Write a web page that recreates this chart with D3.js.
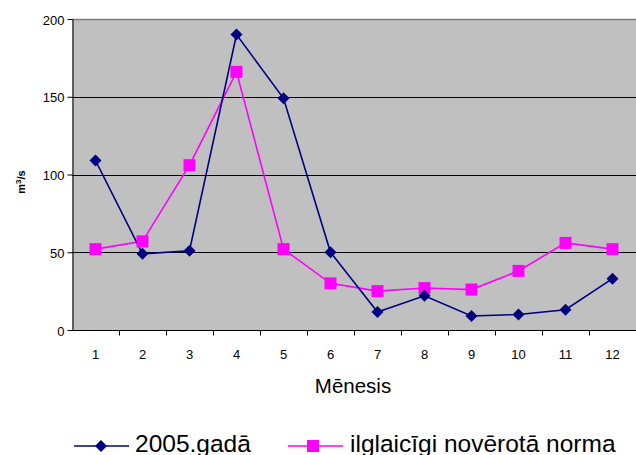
<!DOCTYPE html>
<html>
<head>
<meta charset="utf-8">
<script src="https://cdn.jsdelivr.net/npm/d3@7"></script>
<style>
  body { margin: 0; background: #fff; }
  text { font-family: "Liberation Sans", Arial, sans-serif; }
</style>
</head>
<body>
<div id="chart"></div>
<script>
// mēneši un caurplūdumi (m3/s)
var months = ["1","2","3","4","5","6","7","8","9","10","11","12"];
var flow2005 = [109, 49, 51, 190, 149, 50, 11.5, 22, 9, 10, 13, 33];
var flowNorm = [52, 57, 106, 166, 52, 30, 25, 27, 26, 38, 56, 52];
var yTicks = [0, 50, 100, 150, 200];
var seriesNames = ["2005.gadā", "ilglaicīgi novērotā norma"];

var width = 636, height = 455;
var plotL = 72, plotR = 636, plotT = 19, plotB = 330;

var svg = d3.select("#chart").append("svg")
    .attr("width", width)
    .attr("height", height);

var x = d3.scaleBand().domain(months).range([plotL, plotR]);
var y = d3.scaleLinear().domain([0, 200]).range([plotB, plotT]);

// plot background
svg.append("rect")
    .attr("x", plotL).attr("y", plotT)
    .attr("width", plotR - plotL).attr("height", plotB - plotT)
    .attr("fill", "#c0c0c0");

svg.append("line")
    .attr("x1", plotL).attr("x2", plotR)
    .attr("y1", plotT + 0.5).attr("y2", plotT + 0.5)
    .attr("stroke", "#808080").attr("stroke-width", 1.5);

// gridlines
svg.append("g").selectAll("line")
    .data(yTicks.slice(1, 4))
    .enter().append("line")
    .attr("x1", plotL).attr("x2", plotR)
    .attr("y1", function(d){ return Math.round(y(d)) + 0.5; })
    .attr("y2", function(d){ return Math.round(y(d)) + 0.5; })
    .attr("stroke", "#000").attr("stroke-width", 1);

// axes
var yAxis = svg.append("g")
    .attr("transform", "translate(" + (plotL + 0.5) + ",0)")
    .call(d3.axisLeft(y).tickValues(yTicks).tickSize(5).tickSizeOuter(0));
yAxis.select(".domain").attr("stroke", "#000");
yAxis.selectAll("text").attr("font-size", 13).attr("fill", "#000")
    .attr("dy", "0.55em")
    .attr("font-family", "Liberation Sans, Arial, sans-serif");
yAxis.selectAll("text").attr("y", -2);

var xAxis = svg.append("g")
    .attr("transform", "translate(0," + (plotB + 0.5) + ")");
xAxis.append("line")
    .attr("x1", plotL).attr("x2", plotR)
    .attr("stroke", "#000");
// ticks at category boundaries
xAxis.selectAll(".tk")
    .data(months.slice(1))
    .enter().append("line")
    .attr("class", "tk")
    .attr("x1", function(d){ return Math.round(x(d)) + 0.5; })
    .attr("x2", function(d){ return Math.round(x(d)) + 0.5; })
    .attr("y1", 0).attr("y2", 5)
    .attr("stroke", "#000");
xAxis.selectAll(".lbl")
    .data(months)
    .enter().append("text")
    .attr("class", "lbl")
    .attr("x", function(d){ return x(d) + x.bandwidth()/2; })
    .attr("y", 28)
    .attr("text-anchor", "middle")
    .attr("font-size", 13)
    .text(function(d){ return d; });

// axis titles
svg.append("text")
    .attr("x", 353).attr("y", 393)
    .attr("text-anchor", "middle")
    .attr("font-size", 20.5)
    .text("Mēnesis");

var yt = svg.append("text")
    .attr("transform", "translate(25,182) rotate(-90)")
    .attr("text-anchor", "middle")
    .attr("font-size", 11)
    .attr("font-weight", "bold");
yt.append("tspan").text("m");
yt.append("tspan").attr("baseline-shift", "super").attr("font-size", 8).text("3");
yt.append("tspan").text("/s");

// series lines
var line = d3.line()
    .x(function(d, i){ return x(months[i]) + x.bandwidth()/2; })
    .y(function(d){ return y(d); });

svg.append("path").datum(flowNorm)
    .attr("d", line).attr("fill", "none")
    .attr("stroke", "#ff00ff").attr("stroke-width", 1.6);
svg.append("path").datum(flow2005)
    .attr("d", line).attr("fill", "none")
    .attr("stroke", "#000080").attr("stroke-width", 1.6);

var diamond = d3.symbol().type(d3.symbolSquare).size(72);

svg.append("g").selectAll("rect")
    .data(flowNorm)
    .enter().append("rect")
    .attr("x", function(d, i){ return x(months[i]) + x.bandwidth()/2 - 6; })
    .attr("y", function(d){ return y(d) - 6; })
    .attr("width", 12).attr("height", 12)
    .attr("fill", "#ff00ff");

svg.append("g").selectAll("path")
    .data(flow2005)
    .enter().append("path")
    .attr("d", diamond)
    .attr("transform", function(d, i){
        return "translate(" + (x(months[i]) + x.bandwidth()/2) + "," + y(d) + ") rotate(45)";
    })
    .attr("fill", "#000080");

// legend
var legend = [
    { name: seriesNames[0], color: "#000080", x: 74, type: "d" },
    { name: seriesNames[1], color: "#ff00ff", x: 288, type: "s" }
];
var lg = svg.append("g").selectAll("g")
    .data(legend)
    .enter().append("g")
    .attr("transform", function(d){ return "translate(" + d.x + ",446)"; });
lg.append("line")
    .attr("x1", 0).attr("x2", 55)
    .attr("stroke", function(d){ return d.color; })
    .attr("stroke-width", 1.6);
lg.each(function(d){
    var g = d3.select(this);
    if (d.type == "d") {
        g.append("path").attr("d", diamond)
            .attr("transform", "translate(27,0) rotate(45)")
            .attr("fill", d.color);
    } else {
        g.append("rect").attr("x", 19).attr("y", -6)
            .attr("width", 12).attr("height", 12)
            .attr("fill", d.color);
    }
});
lg.append("text")
    .attr("x", function(d){ return d.type == "d" ? 61 : 62; })
    .attr("y", 5.5)
    .attr("font-size", 24.5)
    .text(function(d){ return d.name; });
</script>
</body>
</html>
